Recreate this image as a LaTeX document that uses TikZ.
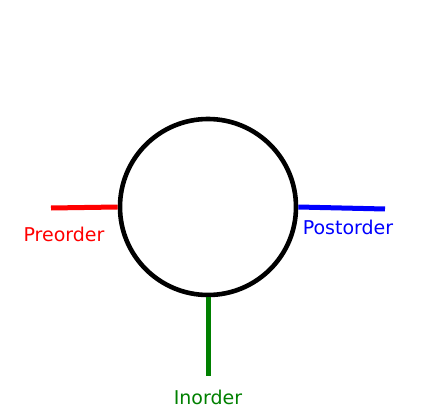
\documentclass[tikz,border=0pt]{standalone}
\usepackage{fontspec}
\setmainfont{DejaVu Sans}
\usetikzlibrary{positioning}
\definecolor{colorin}{rgb}{0, 0.5, 0}
\tikzstyle{every node}=[font=\fontsize{19}{22}\selectfont]
\tikzstyle{ring}=[circle, draw=black, line width=4.6pt, minimum size=176pt, inner sep=0pt]
\tikzstyle{leg}=[line width=5pt]

\begin{document}
\begin{tikzpicture}[x=1pt, y=-1pt]
	\useasboundingbox (0,0) rectangle (429,420);
	
	\node[ring] at (208, 207) (node) {};
	
	\coordinate (pre) at (51, 208);
	\coordinate (post) at (385, 209);
	\coordinate (in) at (208, 376);
	
	\draw[leg, red] (pre) -- (node.west);
	\draw[leg, blue] (node.east) -- (post);
	\draw[leg, colorin] (node.south) -- (in);
	
	\node[red] at (64, 234) (prelabel) {Preorder};
	\node[blue] at (348, 227) (postlabel) {Postorder};
	\node[colorin] at (208, 397) (inlabel) {Inorder};
	
\end{tikzpicture}
\end{document}
